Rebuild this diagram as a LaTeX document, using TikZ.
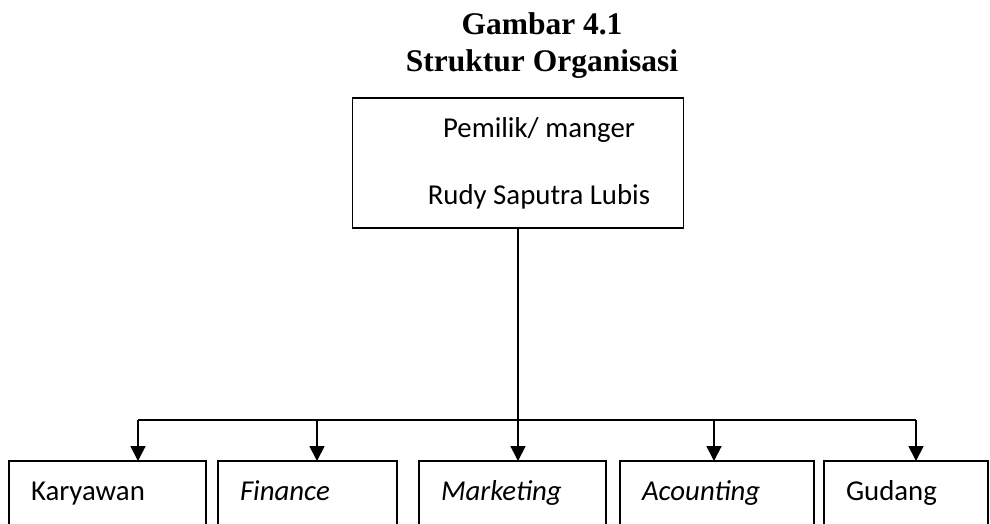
\documentclass[tikz,border=0pt]{standalone}
\usepackage{fontspec}
\setmainfont{Carlito}
\newfontfamily\titlefont{Liberation Serif}
\usetikzlibrary{arrows.meta}
\begin{document}
\begin{tikzpicture}[x=1pt,y=-1pt,line width=1.8pt,every node/.style={outer sep=0pt},
boss/.style={draw,minimum width=331pt,minimum height=130pt,inner sep=0pt,align=center,font=\fontsize{28.8}{35}\selectfont},
unit/.style={draw,anchor=north west,inner xsep=22pt,inner ysep=0pt,text height=39pt,text depth=41pt,align=left,font=\fontsize{28.8}{35}\selectfont},
arr/.style={-{Triangle[width=15pt,length=15pt]}}]
\useasboundingbox (0,0) rectangle (990,524);
\clip (0,0) rectangle (990,524);
\node[font=\titlefont\bfseries\fontsize{31.5}{37}\selectfont,align=center] (title) at (542,46) {Gambar 4.1\\Struktur Organisasi};
\node[boss] (owner) at (518,163) {\hspace*{42pt}Pemilik/ manger\\[32pt]\hspace*{42pt}Rudy Saputra Lubis};
\node[unit,text width=153pt] (kary) at (9,461) {Karyawan};
\node[unit,text width=135pt] (fin) at (218,461) {\itshape Finance};
\node[unit,text width=143pt] (mark) at (419,461) {\itshape Marketing};
\node[unit,text width=150pt] (acc) at (620,461) {\itshape Acounting};
\node[unit,text width=120pt] (gud) at (824,461) {Gudang};
\coordinate (bK) at (138,420);
\coordinate (bF) at (317,420);
\coordinate (bA) at (714,420);
\coordinate (bG) at (916,420);
\draw (bK) -- (bG);
\draw[arr] (owner.south) -- (owner.south |- mark.north);
\foreach \b/\n in {bK/kary,bF/fin,bA/acc,bG/gud}
  \draw[arr] (\b) -- (\b |- \n.north);
\end{tikzpicture}
\end{document}
